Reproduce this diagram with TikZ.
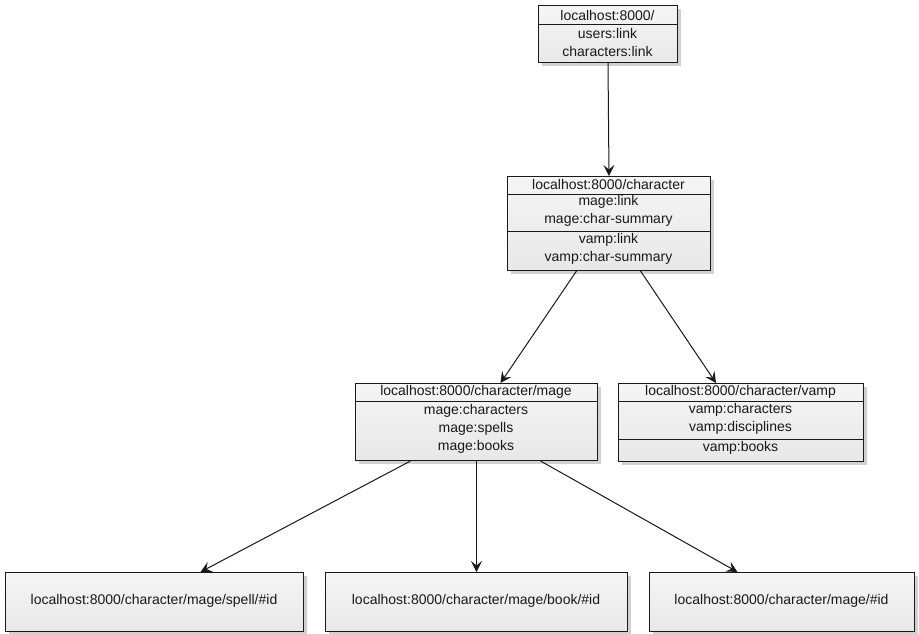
\documentclass[tikz,border=0pt]{standalone}
\usepackage{fontspec}
\setmainfont{Liberation Sans}
\usetikzlibrary{arrows.meta,shadows}
\begin{document}
\begin{tikzpicture}[x=1pt,y=-1pt,
  box/.style={draw=black!90, line width=1pt, inner sep=0pt, anchor=north west,
    top color=white!96!black, bottom color=white!91!black,
    drop shadow={shadow xshift=3pt,shadow yshift=-3pt,opacity=0.18,fill=black}},
  txt/.style={font=\fontsize{14}{16}\selectfont, inner sep=0pt, text=black!90},
  sep/.style={draw=black!90, line width=1pt},
  arr/.style={-{Stealth[length=11pt,width=11pt,inset=4.5pt]}, line width=1pt, draw=black!90}]
\useasboundingbox (0,0) rectangle (919,633);

% boxes
\node[box, minimum width=139pt, minimum height=57pt] (root) at (538,5) {};
\node[box, minimum width=203pt, minimum height=94pt] (char) at (507,176) {};
\node[box, minimum width=242pt, minimum height=77pt] (mage) at (355,383) {};
\node[box, minimum width=245pt, minimum height=78pt] (vamp) at (618,383) {};
\node[box, minimum width=298pt, minimum height=59pt] (spell) at (5,572) {};
\node[box, minimum width=302pt, minimum height=59pt] (book) at (325,572) {};
\node[box, minimum width=265pt, minimum height=59pt] (mid) at (649,572) {};

% separators
\draw[sep] (root.west |- 0,24) -- (root.east |- 0,24);
\draw[sep] (char.west |- 0,194) -- (char.east |- 0,194);
\draw[sep] (char.west |- 0,231) -- (char.east |- 0,231);
\draw[sep] (mage.west |- 0,401) -- (mage.east |- 0,401);
\draw[sep] (vamp.west |- 0,401) -- (vamp.east |- 0,401);
\draw[sep] (vamp.west |- 0,439) -- (vamp.east |- 0,439);

% texts
\node[txt] (t0) at (607.5,15) {localhost:8000/};
\node[txt] (t1) at (607.5,33) {users:link};
\node[txt] (t2) at (607.5,51) {characters:link};

\node[txt] (c0) at (608.5,184) {localhost:8000/character};
\node[txt] (c1) at (608.5,202) {mage:link};
\node[txt] (c2) at (608.5,220) {mage:char-summary};
\node[txt] (c3) at (608.5,240) {vamp:link};
\node[txt] (c4) at (608.5,258) {vamp:char-summary};

\node[txt] (m0) at (476,392) {localhost:8000/character/mage};
\node[txt] (m1) at (476,411) {mage:characters};
\node[txt] (m2) at (476,429) {mage:spells};
\node[txt] (m3) at (476,447) {mage:books};

\node[txt] (v0) at (740.5,392) {localhost:8000/character/vamp};
\node[txt] (v1) at (740.5,410) {vamp:characters};
\node[txt] (v2) at (740.5,428) {vamp:disciplines};
\node[txt] (v3) at (740.5,448) {vamp:books};

\node[txt] (s0) at (154,601) {localhost:8000/character/mage/spell/\#id};
\node[txt] (b0) at (476,601) {localhost:8000/character/mage/book/\#id};
\node[txt] (i0) at (781.5,601) {localhost:8000/character/mage/\#id};

% connectors
\draw[arr] (root.south) -- (char.north);
\draw[arr] ([xshift=-32.5pt]char.south) -- ([xshift=24pt]mage.north);
\draw[arr] ([xshift=31.5pt]char.south) -- ([xshift=-25pt]vamp.north);
\draw[arr] ([xshift=-66pt]mage.south) -- ([xshift=46pt]spell.north);
\draw[arr] (mage.south) -- (book.north);
\draw[arr] ([xshift=64pt]mage.south) -- ([xshift=-44.5pt]mid.north);
\end{tikzpicture}
\end{document}
